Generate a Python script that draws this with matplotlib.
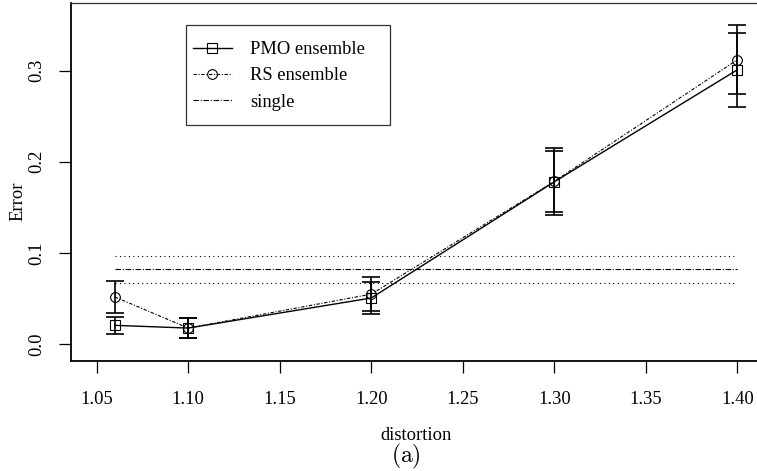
import numpy as np
import matplotlib
matplotlib.use('Agg')
import matplotlib.pyplot as plt
from matplotlib.patches import Rectangle
from matplotlib.lines import Line2D

# =============================================================================
#                                   Data
# =============================================================================

distortion = [1.06, 1.10, 1.20, 1.30, 1.40]

pmo_err = [0.0205, 0.0175, 0.0505, 0.178, 0.301]
pmo_sd = [0.0095, 0.0113, 0.0179, 0.0335, 0.0406]

rs_err = [0.0516, 0.0175, 0.0547, 0.1785, 0.312]
rs_sd = [0.0179, 0.0113, 0.0185, 0.037, 0.038]

single_err = 0.0821
single_sd = 0.0148

# =============================================================================
#                                   Plot
# =============================================================================

plt.rcParams['font.family'] = ['Liberation Serif', 'DejaVu Serif']
plt.rcParams['mathtext.fontset'] = 'cm'
fs = 13.3

W, H = 757, 471
fig = plt.figure(figsize=(W / 100, H / 100), dpi=100)
# axes run a little past the right edge of the picture, as in the original
ax = fig.add_axes([71 / W, 1 - 360.7 / H, 692 / W, 358 / H])

eb = dict(fmt='none', ecolor='black', elinewidth=1.2, capsize=6.5, capthick=1.2)
ax.errorbar(distortion, rs_err, yerr=rs_sd, **eb)
ax.errorbar(distortion, pmo_err, yerr=pmo_sd, **eb)

ax.plot(distortion, pmo_err, color='black', lw=1.0, marker='s', ms=6.7,
        mfc='none', mec='black', mew=0.8)
ax.plot(distortion, rs_err, color='black', lw=0.8, dashes=(3, 1.5, 1, 1.5),
        marker='o', ms=7, mfc='none', mec='black', mew=0.8)

# single model: mean and +/- sd band
ax.hlines(single_err, distortion[0], distortion[-1], color='black', lw=0.8,
          linestyles=[(0, (5, 1.5, 1, 1.5))])
ax.hlines([single_err - single_sd, single_err + single_sd],
          distortion[0], distortion[-1], color='black', lw=0.8,
          linestyles=[(0, (1, 3))])

ax.set_xlim(1.036, 1.414)
ax.set_ylim(-0.0183, 0.3746)
ax.set_xticks([1.05, 1.10, 1.15, 1.20, 1.25, 1.30, 1.35, 1.40])
ax.set_xticklabels(['1.05', '1.10', '1.15', '1.20', '1.25', '1.30', '1.35', '1.40'])
ax.set_yticks([0.0, 0.1, 0.2, 0.3])
ax.set_yticklabels(['0.0', '0.1', '0.2', '0.3'])

ax.tick_params(axis='both', direction='out', length=8.6, width=0.9,
               labelsize=fs, color='black')
ax.tick_params(axis='x', pad=13.5)
ax.tick_params(axis='y', pad=10, labelrotation=90)
for lab in ax.get_yticklabels():
    lab.set_verticalalignment('center')

for s in ax.spines.values():
    s.set_linewidth(0.9)
    s.set_color('#333333')
ax.spines['bottom'].set_linewidth(1.3)
ax.spines['left'].set_linewidth(1.3)
ax.spines['bottom'].set_color('black')
ax.spines['left'].set_color('black')

fig.text(18 / W, 1 - 201 / H, 'Error', rotation=90, ha='center', va='center',
         fontsize=fs)
fig.text(416 / W, 1 - 435 / H, 'distortion', ha='center', va='center',
         fontsize=fs)
fig.text(406 / W, 1 - 456 / H, r'$\mathrm{(a)}$', ha='center', va='center',
         fontsize=17)

# legend, with a hand-drawn frame like R's
handles = [
    Line2D([], [], color='black', lw=1.0, marker='s', ms=6.7, mfc='none', mew=0.8),
    Line2D([], [], color='black', lw=0.8, dashes=(3, 1.5, 1, 1.5), marker='o',
           ms=7, mfc='none', mew=0.8),
    Line2D([], [], color='black', lw=0.8, dashes=(5, 1.5, 1, 1.5)),
]
fig.legend(handles, ['PMO ensemble', 'RS ensemble', 'single'],
           loc='center left', bbox_to_anchor=(193 / W, 1 - 76 / H),
           frameon=False, fontsize=fs, borderpad=0, borderaxespad=0,
           handlelength=2.1, handletextpad=1.0, labelspacing=0.5)
fig.patches.append(Rectangle((186 / W, 1 - 125 / H), 204 / W, 100 / H,
                             transform=fig.transFigure, fill=False,
                             edgecolor='#333333', lw=0.9))

fig.savefig('out.png', dpi=100)
